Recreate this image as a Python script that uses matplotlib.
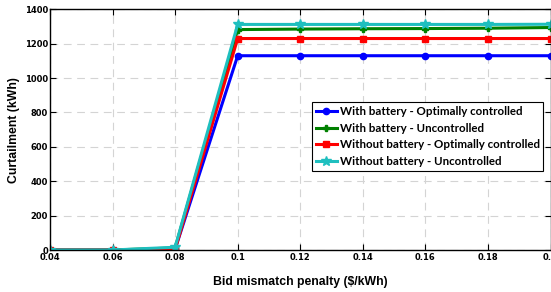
import numpy as np
import matplotlib.pyplot as plt

penalty = [0.04, 0.06, 0.08, 0.10, 0.12, 0.14, 0.16, 0.18, 0.20]
with_batt_opt = [0, 0, 5, 1130, 1130, 1130, 1130, 1130, 1130]
with_batt_unc = [0, 0, 12, 1282, 1285, 1287, 1288, 1290, 1294]
without_batt_opt = [0, 0, 3, 1230, 1230, 1230, 1230, 1230, 1230]
without_batt_unc = [0, 0, 16, 1312, 1312, 1312, 1312, 1312, 1313]
labels = ['With battery - Optimally controlled',
          'With battery - Uncontrolled',
          'Without battery - Optimally controlled',
          'Without battery - Uncontrolled']

fig = plt.figure(figsize=(5.51, 2.92), dpi=100)
ax = fig.add_axes([50 / 551, 42 / 292, 500.5 / 551, 240.7 / 292])

ax.plot(penalty, with_batt_opt, color='#0000ff', lw=2.2, marker='o', ms=4.5, label=labels[0])
ax.plot(penalty, with_batt_unc, color='#008000', lw=2.2, marker='P', ms=4.5, label=labels[1])
ax.plot(penalty, without_batt_opt, color='#ff0000', lw=2.2, marker='s', ms=4.5, label=labels[2])
ax.plot(penalty, without_batt_unc, color='#1fbfbf', lw=2.2, marker='*', ms=7, label=labels[3])

ax.set_xlim(0.04, 0.2)
ax.set_ylim(0, 1400)
ax.set_xticks(np.arange(0.04, 0.201, 0.02))
ax.set_xticklabels(['0.04', '0.06', '0.08', '0.1', '0.12', '0.14', '0.16', '0.18', '0.2'])
ax.set_yticks(np.arange(0, 1401, 200))
ax.tick_params(direction='in', top=True, right=True, length=4, width=0.8, pad=2,
               labelsize=6)
ax.tick_params(axis='y', pad=1.5)
for t in ax.get_xticklabels() + ax.get_yticklabels():
    t.set_fontweight('bold')
ax.grid(True, color='#d4d4d4', ls=(0, (7, 5)), lw=0.8)
for s in ax.spines.values():
    s.set_linewidth(1.0)

ax.set_xlabel('Bid mismatch penalty ($/kWh)', fontsize=8.8, fontweight='bold',
              family='Liberation Sans', labelpad=10)
ax.set_ylabel('Curtailment (kWh)', fontsize=8.8, fontweight='bold',
              family='Liberation Sans', labelpad=3)

leg = ax.legend(loc='lower right', bbox_to_anchor=(0.986, 0.33),
                prop={'family': 'Lato', 'weight': 'bold', 'size': 8.3},
                fancybox=False, edgecolor='black', framealpha=1,
                handlelength=1.8, handletextpad=0.3, labelspacing=0.5,
                borderpad=0.3, borderaxespad=0)
leg.get_frame().set_linewidth(0.8)

fig.savefig('out.png', dpi=100)
